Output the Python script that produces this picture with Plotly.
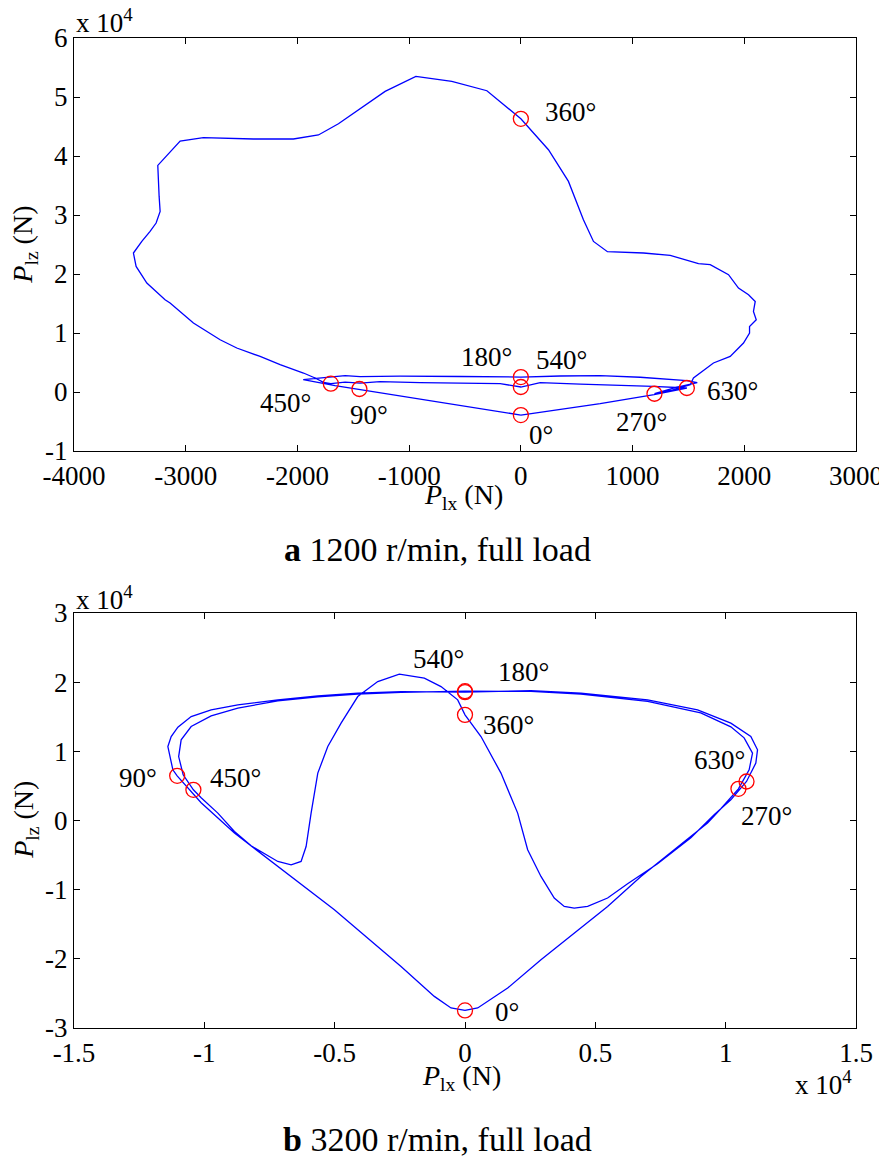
import plotly.graph_objects as go

# ---------------- data: 1200 r/min (values in N) ----------------
top_x = [0, -1445, -1663, -1948, -1690, -1573, -1439, -1081, -543, 0,
         352, 710, 1068, 1486, 1579, 1382, 1196, 1355, 1516, 1545,
         1724, 1874, 1993, 2047, 2047, 2107, 2082, 2098, 2038, 1948,
         1859, 1695, 1590, 1337, 1098, 775, 650, 560, 426, 247,
         0, -304, -618, -940, -1215, -1633, -1812, -2036, -2394, -2842,
         -3050, -3250, -3238, -3229, -3265, -3319, -3393, -3468, -3444, -3348,
         -3185, -3140, -2931, -2692, -2543, -2334, -2155, -1946, -1842, -1767,
         -1701, -1573, -1439, -1260, -902, -543, -185, 0, 173, 531,
         889, 1184, 1486, 1193, 710, 0]
top_y = [-3900, 510, 1068, 2085, 2593, 2763, 2593, 2678, 2627, 2540,
         2712, 2763, 2508, 1915, 1576, 729, -290, 305, 1237, 2373,
         4915, 6034, 8305, 10000, 11119, 12254, 13661, 15356, 16492, 17627,
         19881, 21576, 21746, 23153, 23559, 23780, 25526, 29204, 35696, 41068,
         46300, 51063, 52645, 53493, 50951, 45475, 43560, 42882, 42882, 43102,
         42543, 38407, 33153, 30611, 28644, 27221, 25526, 23559, 21288, 18475,
         15644, 15085, 11695, 8865, 7458, 6034, 4627, 3220, 2373, 1627,
         1410, 1661, 1492, 1746, 1576, 1492, 1407, 850, 1576, 1322,
         1153, 949, 680, -458, -1983, -3900]

top_mark_labels = ["0°", "90°", "180°", "270°", "360°", "450°", "540°", "630°"]
top_mark_x = [0, -1445, 0, 1196, 0, -1701, 0, 1486]
top_mark_y = [-3900, 510, 2540, -290, 46300, 1410, 850, 680]

top_xticks = [-4000, -3000, -2000, -1000, 0, 1000, 2000, 3000]
top_xticktext = ["-4000", "-3000", "-2000", "-1000", "0", "1000", "2000", "3000"]
top_yticks = [-10000, 0, 10000, 20000, 30000, 40000, 50000, 60000]
top_yticktext = ["-1", "0", "1", "2", "3", "4", "5", "6"]

# ---------------- data: 3200 r/min (values in N) ----------------
bot_x = [0, -537, -1177, -2454, -5011, -8845, -10122, -11042, -11207, -11337,
         -11399, -11272, -11015, -10505, -9738, -8715, -7181, -5647, -4114, -2454,
         0, 2530, 4447, 7005, 8922, 10198, 10965, 11222, 11157, 10800,
         10198, 9558, 8665, 7388, 6238, 5471, 4704, 4191, 3807, 3424,
         2914, 2404, 2021, 1380, 613, 0, -280, -920, -1560, -2519,
         -3347, -4114, -4754, -5264, -5647, -5904, -6096, -6288, -6671, -7181,
         -8205, -8845, -9482, -10122, -10420, -10812, -10985, -10889, -10505, -9738,
         -8715, -7181, -5647, -4114, -2454, 0, 2530, 4447, 7005, 9042,
         10198, 10708, 11030, 10900, 10490, 9815, 9305, 8025, 6748, 5471,
         4191, 2914, 1637, 487, 0]
bot_y = [-27455, -27108, -25432, -21097, -12904, -1821, 2558, 6460, 7326, 9494,
         10693, 12138, 13496, 15028, 15996, 16719, 17441, 18019, 18409, 18641,
         18550, 18785, 18409, 17441, 15996, 14074, 12138, 10216, 8294, 5640,
         2991, 824, -2500, -6257, -9147, -11213, -12427, -12658, -12427, -11213,
         -8092, -4234, 1069, 6849, 12138, 15270, 17441, 19363, 20577, 21155,
         20086, 17918, 14074, 10693, 6849, 1069, -3757, -5925, -6401, -5925,
         -3656, -1590, 1069, 3280, 4440, 6604, 9248, 11661, 13583, 15129,
         16242, 17297, 17875, 18265, 18525, 18700, 18669, 18265, 17224, 15563,
         13540, 11950, 9739, 7326, 4580, 1691, -376, -4234, -8092, -12427,
         -16271, -20129, -24218, -27108, -27455]

bot_mark_labels = ["0°", "90°", "180°", "270°", "360°", "450°", "540°", "630°"]
bot_mark_x = [0, -11042, 0, 10800, 0, -10420, 0, 10490]
bot_mark_y = [-27455, 6460, 18550, 5640, 15270, 4440, 18700, 4580]

bot_xticks = [-15000, -10000, -5000, 0, 5000, 10000, 15000]
bot_xticktext = ["-1.5", "-1", "-0.5", "0", "0.5", "1", "1.5"]
bot_yticks = [-30000, -20000, -10000, 0, 10000, 20000, 30000]
bot_yticktext = ["-3", "-2", "-1", "0", "1", "2", "3"]

# ---------------- styles (label offsets in px) ----------------
top_label_dx = [20, 10, -34, -13, 50, -45, 41, 46]
top_label_dy = [-20, -26, 20, -28, 7, -19, 27, -3]
bot_label_dx = [42, -39, 58, 20, 43, 42, -27, -19]
bot_label_dy = [-2, -2, 20, -35, -10, 12, 32, 29]

FONT = "Liberation Serif"
BLUE = "#0000ff"

fig = go.Figure()
fig.add_trace(go.Scatter(x=top_x, y=top_y, mode="lines", xaxis="x", yaxis="y",
                         line=dict(color=BLUE, width=1.3), showlegend=False, hoverinfo="skip"))
fig.add_trace(go.Scatter(x=top_mark_x, y=top_mark_y, mode="markers", xaxis="x", yaxis="y",
                         marker=dict(symbol="circle-open", size=15, color="red", line=dict(width=1.3, color="red")),
                         showlegend=False, hoverinfo="skip"))
fig.add_trace(go.Scatter(x=bot_x, y=bot_y, mode="lines", xaxis="x2", yaxis="y2",
                         line=dict(color=BLUE, width=1.3), showlegend=False, hoverinfo="skip"))
fig.add_trace(go.Scatter(x=bot_mark_x, y=bot_mark_y, mode="markers", xaxis="x2", yaxis="y2",
                         marker=dict(symbol="circle-open", size=15, color="red", line=dict(width=1.3, color="red")),
                         showlegend=False, hoverinfo="skip"))


def ax(**kw):
    d = dict(showline=True, linecolor="black", linewidth=1.3, mirror="ticks",
             ticks="inside", ticklen=6, tickwidth=1.2, tickcolor="black",
             showgrid=False, zeroline=False, fixedrange=True, automargin=False,
             ticklabeloverflow="allow",
             tickfont=dict(family=FONT, size=27, color="black"))
    d.update(kw)
    return d


# the page body adds an 8 px margin: figure spans x 8..887, y 8..1166,
# plot area spans x 74..856, y 38..1028 on the page
fig.update_layout(
    width=879, height=1158,
    margin=dict(l=66, r=31, t=30, b=138),
    paper_bgcolor="white", plot_bgcolor="white",
    xaxis=ax(domain=[0, 1], anchor="y", range=[-4000, 3000],
             tickmode="array", tickvals=top_xticks, ticktext=top_xticktext),
    yaxis=ax(domain=[0.5828, 1], anchor="x", range=[-10000, 60000],
             tickmode="array", tickvals=top_yticks, ticktext=top_yticktext),
    xaxis2=ax(domain=[0, 1], anchor="y2", range=[-15000, 15000],
              tickmode="array", tickvals=bot_xticks, ticktext=bot_xticktext),
    yaxis2=ax(domain=[0, 0.4192], anchor="x2", range=[-30000, 30000],
              tickmode="array", tickvals=bot_yticks, ticktext=bot_yticktext),
)

annots = []
tf = dict(family=FONT, size=27, color="black")
for lab, x, y, dx, dy in zip(top_mark_labels, top_mark_x, top_mark_y, top_label_dx, top_label_dy):
    annots.append(dict(text=lab, x=x, y=y, xref="x", yref="y", showarrow=False,
                       xanchor="center", yanchor="middle", xshift=dx, yshift=dy, font=tf))
for lab, x, y, dx, dy in zip(bot_mark_labels, bot_mark_x, bot_mark_y, bot_label_dx, bot_label_dy):
    annots.append(dict(text=lab, x=x, y=y, xref="x2", yref="y2", showarrow=False,
                       xanchor="center", yanchor="middle", xshift=dx, yshift=dy, font=tf))

title_font = dict(family=FONT, size=28, color="black")
cap_font = dict(family=FONT, size=34, color="black")


def pa(text, x, y, font, **kw):
    d = dict(text=text, x=x, y=y, xref="paper", yref="paper", showarrow=False,
             xanchor="center", yanchor="middle", font=font)
    d.update(kw)
    return d


annots += [
    pa("<i>P</i><sub>lz</sub> (N)", -0.063, 0.791, title_font, textangle=-90),
    pa("<i>P</i><sub>lx</sub> (N)", 0.4975, 0.5364, title_font),
    pa("<b>a</b> 1200 r/min, full load", 0.4642, 0.4838, cap_font),
    pa("x 10<sup>4</sup>", 0.0, 1.0172, tf, xanchor="left"),
    pa("<i>P</i><sub>lz</sub> (N)", -0.063, 0.2101, title_font, textangle=-90),
    pa("<i>P</i><sub>lx</sub> (N)", 0.4955, -0.0495, title_font),
    pa("<b>b</b> 3200 r/min, full load", 0.4642, -0.1131, cap_font),
    pa("x 10<sup>4</sup>", 0.0, 0.4343, tf, xanchor="left"),
    pa("x 10<sup>4</sup>", 0.997, -0.0556, tf, xanchor="right"),
]
fig.update_layout(annotations=annots)

fig.write_html("out.html")
